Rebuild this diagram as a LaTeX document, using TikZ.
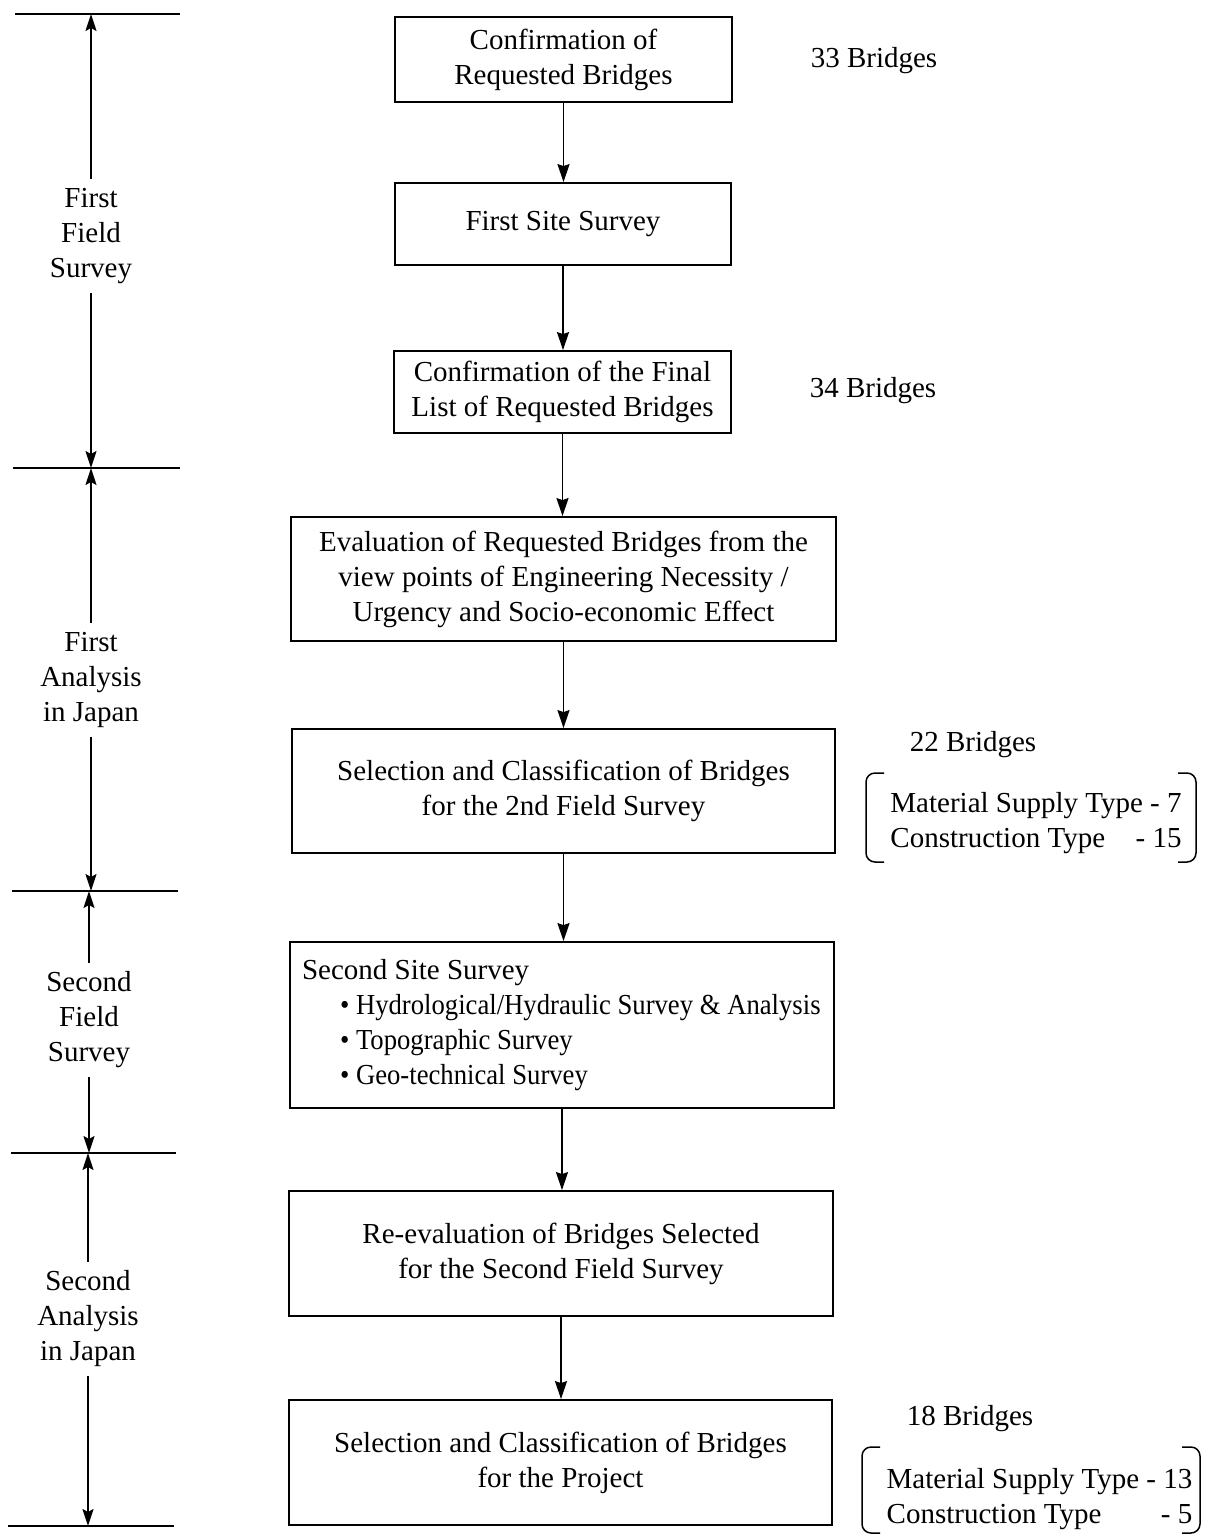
\documentclass[tikz,border=0pt]{standalone}
\usepackage{fontspec}
\setmainfont{Liberation Serif}
\newfontfamily\condserif[FakeStretch=0.92]{Liberation Serif}
\usetikzlibrary{arrows.meta,calc}
\begin{document}
\begin{tikzpicture}[x=1pt,y=-1pt,
  every node/.style={font=\fontsize{29}{35}\selectfont},
  box/.style={draw, line width=1.8pt, align=center, inner sep=0pt},
  flow/.style={line width=1.8pt, -{Stealth[length=18pt,width=12pt,inset=2pt]}},
  phase/.style={line width=1.7pt, -{Stealth[length=17pt,width=11pt,inset=3pt]}},
  sepline/.style={line width=1.6pt},
  phlabel/.style={align=center, inner xsep=4pt, inner ysep=9pt},
  brk/.style={line width=1.5pt, rounded corners=9pt},
  note/.style={inner sep=0pt}
]
\useasboundingbox (0,0) rectangle (1210,1535);

% main flow boxes
\node[box, minimum width=337pt, minimum height=85pt] (b1) at (563.5,59.5) {Confirmation of\\Requested Bridges};
\node[box, minimum width=336pt, minimum height=82pt] (b2) at (563,224) {First Site Survey};
\node[box, minimum width=337pt, minimum height=82pt] (b3) at (562.5,392) {Confirmation of the Final\\List of Requested Bridges};
\node[box, minimum width=545pt, minimum height=124pt] (b4) at (563.5,579) {Evaluation of Requested Bridges from the\\view points of Engineering Necessity /\\Urgency and Socio-economic Effect};
\node[box, minimum width=543pt, minimum height=124pt] (b5) at (563.5,791) {Selection and Classification of Bridges\\for the 2nd Field Survey};
\node[box, minimum width=544pt, minimum height=166pt] (b6) at (562,1025) {\makebox[520pt][l]{\begin{tabular}{@{}l@{}}Second Site Survey\\
\hspace*{38pt}{\condserif • Hydrological/Hydraulic Survey \& Analysis}\\
\hspace*{38pt}{\condserif • Topographic Survey}\\
\hspace*{38pt}{\condserif • Geo-technical Survey}\end{tabular}}};
\node[box, minimum width=544pt, minimum height=125pt] (b7) at (561,1253.5) {Re-evaluation of Bridges Selected\\for the Second Field Survey};
\node[box, minimum width=543pt, minimum height=125pt] (b8) at (560.5,1462.5) {Selection and Classification of Bridges\\for the Project};

\draw[flow] (b1.south) -- (b1.south |- b2.north);
\draw[flow] (b2.south) -- (b2.south |- b3.north);
\draw[flow] (b3.south) -- (b3.south |- b4.north);
\draw[flow] (b4.south) -- (b4.south |- b5.north);
\draw[flow] (b5.south) -- (b5.south |- b6.north);
\draw[flow] (b6.south) -- (b6.south |- b7.north);
\draw[flow] (b7.south) -- (b7.south |- b8.north);

% right annotations
\node[note] (n33) at (874,61) {33 Bridges};
\node[note] (n34) at (873,391) {34 Bridges};
\node[note] (n22) at (973,745) {22 Bridges};
\node[note] (m22) at (1036,823) {\begin{tabular}{@{}l@{}}Material Supply Type - 7\\Construction Type\hfill- 15\end{tabular}};
\draw[brk] (884,773) -- (866,773) -- (866,862) -- (884,862);
\draw[brk] (1178,773) -- (1196,773) -- (1196,862) -- (1178,862);
\node[note] (n18) at (970,1419) {18 Bridges};
\node[note] (m18) at (1039.5,1499) {\begin{tabular}{@{}l@{}}Material Supply Type - 13\\Construction Type\hfill- 5\end{tabular}};
\draw[brk] (880,1447) -- (862,1447) -- (862,1533) -- (880,1533);
\draw[brk] (1182,1447) -- (1200,1447) -- (1200,1533) -- (1182,1533);

% phase separators
\draw[sepline] (15,14) -- (180,14);
\draw[sepline] (13,468) -- (180,468);
\draw[sepline] (12,891) -- (178,891);
\draw[sepline] (11,1153) -- (176,1153);
\draw[sepline] (8,1526) -- (174,1526);

\coordinate (h1a) at (91,14);
\coordinate (h1b) at (91,468);
\coordinate (h2a) at (91,468);
\coordinate (h2b) at (91,891);
\coordinate (h3a) at (89,891);
\coordinate (h3b) at (89,1153);
\coordinate (h4a) at (88,1153);
\coordinate (h4b) at (88,1526);

\node[phlabel] (p1) at (91,236) {First\\Field\\Survey};
\node[phlabel] (p2) at (91,680) {First\\Analysis\\in Japan};
\node[phlabel] (p3) at (89,1020) {Second\\Field\\Survey};
\node[phlabel] (p4) at (88,1319) {Second\\Analysis\\in Japan};

\draw[phase] (p1) -- (h1a);
\draw[phase] (p1) -- (h1b);
\draw[phase] (p2) -- (h2a);
\draw[phase] (p2) -- (h2b);
\draw[phase] (p3) -- (h3a);
\draw[phase] (p3) -- (h3b);
\draw[phase] (p4) -- (h4a);
\draw[phase] (p4) -- (h4b);
\end{tikzpicture}
\end{document}
